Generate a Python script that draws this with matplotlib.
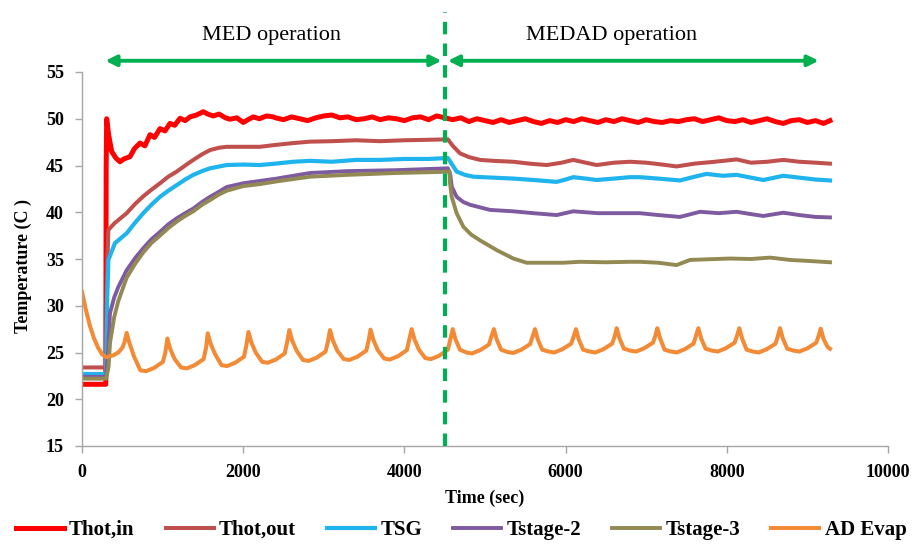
import matplotlib
matplotlib.use("Agg")
import matplotlib.pyplot as plt

# ---------------- data ----------------
hot_in_t = [0, 295, 300, 306, 330, 368, 420, 471, 520, 596, 650, 720, 780, 844, 900, 968,
            1030, 1092, 1150, 1216, 1280, 1340, 1420, 1505, 1560, 1629, 1700, 1780, 1836,
            1920, 2001, 2060, 2125, 2200, 2290, 2373,
            2400, 2500, 2600, 2700, 2800, 2900, 3000, 3100, 3200, 3300, 3400, 3500, 3600,
            3700, 3800, 3900, 4000, 4100, 4200, 4300, 4400, 4500, 4600, 4700, 4800, 4900,
            5000, 5100, 5200, 5300, 5400, 5500, 5600, 5700, 5800, 5900, 6000, 6100, 6200,
            6300, 6400, 6500, 6600, 6700, 6800, 6900, 7000, 7100, 7200, 7300, 7400, 7500,
            7600, 7700, 7800, 7900, 8000, 8100, 8200, 8300, 8400, 8500, 8600, 8700, 8800,
            8900, 9000, 9100, 9200, 9280]
hot_in_v = [21.6, 21.6, 45.0, 50.0, 48.3, 46.5, 45.8, 45.4, 45.7, 45.95, 46.8, 47.4, 47.1,
            48.3, 48.0, 48.95, 48.7, 49.5, 49.3, 50.05, 49.8, 50.2, 50.4, 50.75, 50.5, 50.3,
            50.5, 50.1, 49.95, 50.1, 49.6, 49.9, 50.2, 50.0, 50.3, 50.2,
            50.1, 49.9, 50.2, 50.0, 49.8, 50.1, 50.3, 50.4, 50.1, 50.2, 49.9, 50.0, 50.2,
            49.9, 50.1, 50.0, 49.8, 50.1, 50.2, 49.9, 50.3, 50.1, 49.9, 50.1, 49.7, 50.0,
            49.8, 49.6, 49.9, 49.6, 49.8, 50.0, 49.7, 49.5, 49.8, 49.6, 49.9, 49.7, 50.0,
            49.8, 49.6, 49.9, 49.7, 50.0, 49.8, 49.6, 49.9, 49.7, 49.6, 49.8, 49.7, 49.9,
            50.0, 49.7, 49.9, 50.1, 49.8, 49.7, 49.9, 49.6, 49.8, 50.0, 49.7, 49.5, 49.8,
            49.9, 49.6, 49.8, 49.5, 49.8]

hot_out_t = [0, 300, 310, 327, 400, 554, 660, 760, 860, 968, 1070, 1175, 1280, 1381, 1490,
             1588, 1700, 1795, 2000, 2208, 2400, 2622, 2829, 3100, 3400, 3700, 4000, 4300,
             4540, 4600, 4690, 4800, 4938, 5100, 5351, 5550, 5765, 5950, 6095, 6250, 6385,
             6600, 6799, 7000, 7200, 7377, 7600, 7850, 8122, 8300, 8500, 8701, 8900, 9100,
             9280]
hot_out_v = [23.4, 23.4, 33.0, 38.1, 38.8, 39.9, 40.9, 41.7, 42.4, 43.1, 43.8, 44.35, 45.0,
             45.6, 46.2, 46.65, 46.9, 47.0, 47.0, 47.0, 47.2, 47.4, 47.55, 47.6, 47.7, 47.6,
             47.7, 47.75, 47.8, 47.1, 46.3, 45.9, 45.6, 45.5, 45.4, 45.2, 45.05, 45.3, 45.6,
             45.3, 45.05, 45.3, 45.4, 45.3, 45.1, 44.9, 45.2, 45.4, 45.65, 45.3, 45.4, 45.6,
             45.4, 45.3, 45.2]

tsg_t = [0, 300, 310, 327, 409, 554, 660, 760, 860, 968, 1070, 1175, 1280, 1381, 1490, 1588,
         1795, 2000, 2208, 2400, 2622, 2829, 3100, 3400, 3700, 4000, 4300, 4540, 4600, 4648,
         4750, 4855, 5100, 5351, 5600, 5889, 6000, 6095, 6250, 6385, 6600, 6799, 6923, 7150,
         7419, 7600, 7750, 7950, 8122, 8300, 8453, 8701, 8900, 9100, 9280]
tsg_v = [22.7, 22.7, 30.0, 34.9, 36.7, 37.75, 38.9, 39.9, 40.8, 41.65, 42.3, 42.9, 43.5, 44.0,
         44.4, 44.7, 45.05, 45.1, 45.05, 45.2, 45.4, 45.5, 45.4, 45.6, 45.6, 45.7, 45.7, 45.8,
         45.0, 44.35, 44.0, 43.8, 43.7, 43.6, 43.45, 43.25, 43.5, 43.75, 43.6, 43.45, 43.6,
         43.75, 43.75, 43.6, 43.4, 43.8, 44.1, 43.9, 44.0, 43.7, 43.45, 43.9, 43.7, 43.5, 43.4]

st2_t = [0, 300, 327, 347, 400, 450, 554, 660, 760, 860, 968, 1070, 1175, 1280, 1381, 1490,
         1588, 1700, 1795, 2001, 2415, 2829, 3300, 3900, 4540, 4570, 4587, 4648, 4730, 4814,
         5062, 5351, 5600, 5889, 6095, 6400, 6799, 6923, 7150, 7419, 7667, 7900, 8122, 8300,
         8453, 8701, 8900, 9100, 9280]
st2_v = [22.4, 22.4, 25.6, 29.2, 30.9, 32.0, 33.8, 35.1, 36.15, 37.1, 37.9, 38.7, 39.35, 39.9,
         40.4, 41.1, 41.65, 42.2, 42.7, 43.1, 43.6, 44.2, 44.4, 44.5, 44.7, 44.0, 42.75, 41.65,
         41.1, 40.8, 40.25, 40.1, 39.9, 39.7, 40.1, 39.9, 39.9, 39.9, 39.7, 39.5, 40.05, 39.9,
         40.05, 39.8, 39.6, 39.95, 39.7, 39.5, 39.45]

st3_t = [0, 300, 330, 347, 400, 450, 554, 660, 760, 860, 968, 1070, 1175, 1280, 1381, 1490,
         1588, 1700, 1795, 2001, 2200, 2415, 2829, 3300, 3900, 4400, 4560, 4566, 4587, 4648,
         4731, 4830, 4938, 5145, 5351, 5517, 5971, 6178, 6500, 6799, 6923, 7150, 7377, 7543,
         8040, 8300, 8536, 8784, 9000, 9280]
st3_v = [22.2, 22.2, 23.5, 26.0, 28.8, 30.5, 33.0, 34.5, 35.7, 36.7, 37.5, 38.3, 39.0, 39.6,
         40.1, 40.8, 41.3, 41.9, 42.3, 42.8, 43.0, 43.3, 43.8, 44.0, 44.2, 44.3, 44.35, 43.1,
         41.65, 39.9, 38.45, 37.6, 37.0, 35.95, 35.05, 34.6, 34.6, 34.7, 34.65, 34.7, 34.7,
         34.6, 34.35, 34.9, 35.05, 35.0, 35.15, 34.9, 34.8, 34.65]

ad_t = [0, 50, 100, 150, 200, 250, 300, 388, 450, 500, 528,
        554, 589, 644, 724, 794, 894, 1004, 1034,
        1059, 1094, 1149, 1229, 1299, 1399, 1509, 1539,
        1560, 1595, 1650, 1730, 1800, 1900, 2010, 2040,
        2065, 2100, 2155, 2235, 2305, 2405, 2515, 2545,
        2572, 2607, 2662, 2742, 2812, 2912, 3022, 3052,
        3077, 3112, 3167, 3247, 3317, 3417, 3527, 3557,
        3580, 3615, 3670, 3750, 3820, 3920, 4030, 4060,
        4090, 4125, 4180, 4260, 4330, 4430, 4540, 4570,
        4599, 4634, 4689, 4769, 4839, 4939, 5049, 5079,
        5110, 5145, 5200, 5280, 5350, 5450, 5560, 5590,
        5620, 5655, 5710, 5790, 5860, 5960, 6070, 6100,
        6128, 6163, 6218, 6298, 6368, 6468, 6578, 6608,
        6634, 6669, 6724, 6804, 6874, 6974, 7084, 7114,
        7138, 7173, 7228, 7308, 7378, 7478, 7588, 7618,
        7647, 7682, 7737, 7817, 7887, 7987, 8097, 8127,
        8155, 8190, 8245, 8325, 8395, 8495, 8605, 8635,
        8660, 8695, 8750, 8830, 8900, 9000, 9110, 9140,
        9165, 9200, 9250, 9280]
ad_v = [31.5, 29.5, 27.8, 26.5, 25.5, 24.8, 24.5, 24.7, 25.0, 25.5, 26.1,
        27.1, 26.0, 24.6, 23.1, 23.0, 23.35, 24.0, 25.0,
        26.5, 25.4, 24.3, 23.4, 23.3, 23.65, 24.3, 25.5,
        27.05, 25.95, 24.85, 23.65, 23.55, 23.9, 24.55, 25.8,
        27.2, 26.1, 25.0, 24.0, 23.9, 24.25, 24.9, 26.1,
        27.4, 26.3, 25.2, 24.2, 24.1, 24.45, 25.1, 26.2,
        27.4, 26.3, 25.2, 24.3, 24.2, 24.55, 25.2, 26.3,
        27.45, 26.35, 25.25, 24.35, 24.25, 24.6, 25.25, 26.35,
        27.5, 26.4, 25.3, 24.4, 24.3, 24.65, 25.3, 26.4,
        27.5, 26.4, 25.3, 25.0, 24.9, 25.25, 25.85, 26.7,
        27.5, 26.4, 25.3, 25.05, 24.95, 25.3, 25.9, 26.7,
        27.5, 26.4, 25.3, 25.1, 25.0, 25.35, 25.95, 26.7,
        27.5, 26.4, 25.3, 25.1, 25.0, 25.35, 25.95, 26.7,
        27.6, 26.5, 25.4, 25.2, 25.1, 25.45, 26.05, 26.8,
        27.6, 26.5, 25.3, 25.1, 25.0, 25.35, 25.95, 26.8,
        27.6, 26.5, 25.4, 25.2, 25.1, 25.45, 26.05, 26.8,
        27.6, 26.5, 25.3, 25.1, 25.0, 25.35, 25.95, 26.8,
        27.6, 26.5, 25.4, 25.2, 25.1, 25.45, 26.05, 26.8,
        27.55, 26.45, 25.6, 25.4]

series_names = ["Thot,in", "Thot,out", "TSG", "Tstage-2", "Tstage-3", "AD Evap"]
switch_time = 4500
x_ticks = [0, 2000, 4000, 6000, 8000, 10000]
y_ticks = [15, 20, 25, 30, 35, 40, 45, 50, 55]

# ---------------- figure ----------------
SERIF = ["Liberation Serif", "DejaVu Serif"]
plt.rcParams["font.family"] = SERIF

fig = plt.figure(figsize=(9.13, 5.46), dpi=100)
ax = fig.add_axes([82 / 913, 1 - 446 / 546, (888 - 82) / 913, (446 - 72) / 546])

colors = ["#FF0000", "#C0504D", "#1FB4EE", "#7E5AA0", "#938953", "#F28A36"]
widths = [3.6, 2.9, 3.0, 2.8, 2.8, 2.9]
data = [(hot_in_t, hot_in_v), (hot_out_t, hot_out_v), (tsg_t, tsg_v),
        (st2_t, st2_v), (st3_t, st3_v), (ad_t, ad_v)]
for (t, v), c, lw, name in zip(data, colors, widths, series_names):
    ax.plot(t, v, color=c, lw=lw, label=name, solid_joinstyle="round")

green = "#00B050"
ax.plot([switch_time, switch_time], [15, 61.4], color=green, lw=3,
        linestyle=(0, (3, 2.2)), clip_on=False, zorder=5)

arrow_y = 56.2
ax.annotate("", xy=(4460, arrow_y), xytext=(290, arrow_y), annotation_clip=False,
            arrowprops=dict(arrowstyle="<|-|>", color=green, lw=2.8, mutation_scale=16,
                            shrinkA=0, shrinkB=0))
ax.annotate("", xy=(9140, arrow_y), xytext=(4540, arrow_y), annotation_clip=False,
            arrowprops=dict(arrowstyle="<|-|>", color=green, lw=2.8, mutation_scale=16,
                            shrinkA=0, shrinkB=0))
ax.text(2357, 58.9, "MED operation", ha="center", va="center", fontsize=16, clip_on=False)
ax.text(6576, 58.9, "MEDAD operation", ha="center", va="center", fontsize=16, clip_on=False)

ax.set_xlim(0, 10000)
ax.set_ylim(15, 55)
ax.set_xticks(x_ticks)
ax.set_yticks(y_ticks)
ax.set_xticklabels([str(x) for x in x_ticks], fontsize=13, fontweight="bold")
ax.set_yticklabels([str(y) for y in y_ticks], fontsize=13, fontweight="bold")
for s in ["top", "right"]:
    ax.spines[s].set_visible(False)
for s in ["left", "bottom"]:
    ax.spines[s].set_color("#A6A6A6")
    ax.spines[s].set_linewidth(1.0)
ax.tick_params(axis="both", colors="#A6A6A6", labelcolor="black", length=5, width=1.0,
               direction="out", pad=8)

ax.set_xlabel("Time (sec)", fontsize=13, fontweight="bold", labelpad=6)
ax.set_ylabel("Temperature (C )", fontsize=13, fontweight="bold", labelpad=8)
ax.yaxis.set_label_coords(-0.062, 0.48)

fig.legend(loc="center", bbox_to_anchor=(0.505, 1 - 530 / 546), ncol=6, frameon=False,
           prop={"family": SERIF, "weight": "bold", "size": 15}, handlelength=2.3,
           columnspacing=1.5, handletextpad=0.25, borderaxespad=0)

fig.savefig("out.png", dpi=100)
